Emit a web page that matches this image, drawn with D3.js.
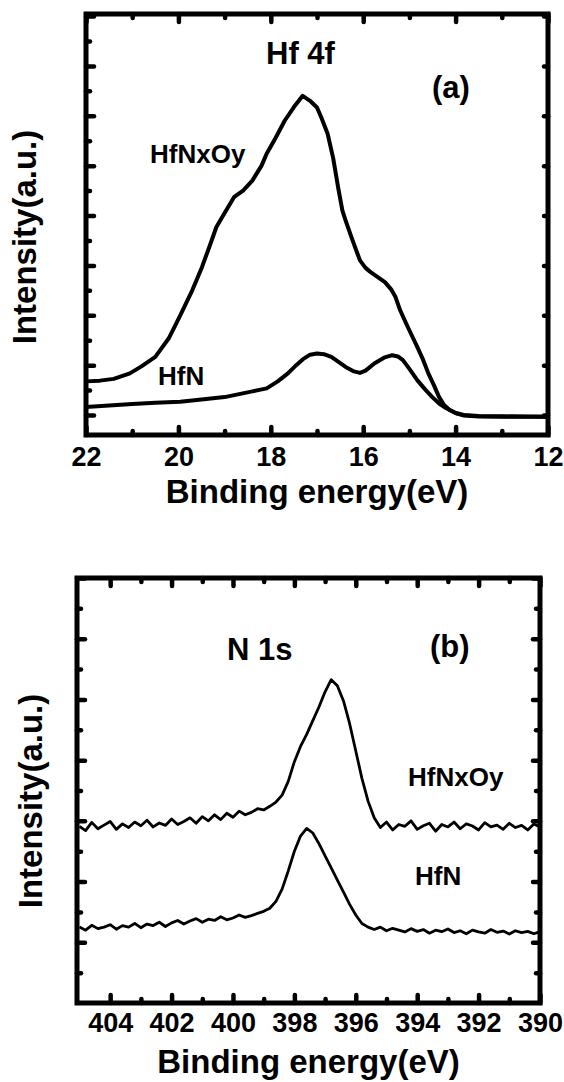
<!DOCTYPE html>
<html>
<head>
<style>
  body {
    margin: 0;
    background-color: #fff;
  }
  text {
    font-family: "Liberation Sans", Arial, sans-serif;
    font-weight: bold;
    fill: #000;
  }
</style>
<script src="https://d3js.org/d3.v7.min.js"></script>
</head>
<body>
<script>
// XPS spectra: (a) Hf 4f, (b) N 1s

// panel (a) - Hf 4f
const hfEnergyNxOy = [22.0, 21.7, 21.4, 21.05, 20.8, 20.5, 20.2, 19.96, 19.7, 19.49, 19.3, 19.18, 19.0, 18.79, 18.6, 18.4, 18.2, 18.09, 17.9, 17.7, 17.5, 17.31, 17.15, 17.0, 16.9, 16.77, 16.65, 16.54, 16.45, 16.38, 16.23, 16.07, 15.95, 15.84, 15.7, 15.53, 15.4, 15.3, 15.2, 15.07, 14.95, 14.83, 14.7, 14.59, 14.47, 14.36, 14.25, 14.13, 14.0, 13.82, 13.5, 13.0, 12.5, 12.0];
const hfNxOy = [2.35, 2.38, 2.45, 2.67, 2.95, 3.33, 4.1, 5.0, 6.0, 6.93, 7.9, 8.53, 9.1, 9.75, 10.0, 10.4, 11.0, 11.48, 12.1, 12.8, 13.35, 13.8, 13.6, 13.33, 12.9, 12.28, 11.3, 10.1, 9.2, 8.8, 8.0, 7.2, 6.9, 6.73, 6.55, 6.33, 6.05, 5.73, 5.2, 4.67, 4.2, 3.73, 3.2, 2.67, 2.2, 1.73, 1.4, 1.2, 1.08, 1.0, 0.96, 0.95, 0.94, 0.93];

const hfEnergyN = [22.0, 21.5, 21.0, 20.5, 19.96, 19.5, 19.0, 18.79, 18.4, 18.09, 17.85, 17.63, 17.45, 17.31, 17.15, 17.0, 16.85, 16.69, 16.55, 16.38, 16.2, 16.07, 15.95, 15.76, 15.55, 15.37, 15.25, 15.14, 15.0, 14.83, 14.67, 14.51, 14.35, 14.2, 14.0, 13.82, 13.5, 13.0, 12.0];
const hfN = [1.32, 1.38, 1.44, 1.49, 1.53, 1.62, 1.72, 1.8, 1.95, 2.07, 2.35, 2.67, 3.0, 3.23, 3.42, 3.47, 3.44, 3.33, 3.15, 2.93, 2.75, 2.69, 2.78, 3.07, 3.3, 3.4, 3.35, 3.2, 2.85, 2.4, 2.05, 1.73, 1.45, 1.27, 1.08, 0.98, 0.94, 0.93, 0.93];

const hfTicks = [22, 21, 20, 19, 18, 17, 16, 15, 14, 13, 12];

// panel (b) - N 1s, 405.0 -> 390.0 eV in 0.2 eV steps
const nEnergy = d3.range(0, 76).map(i => +(405 - i * 0.2).toFixed(1));
const nNxOy = [5.82, 5.68, 5.95, 5.74, 5.86, 5.98, 5.72, 5.9, 5.78, 5.96,
  5.84, 6.02, 5.8, 5.93, 5.85, 6.06, 5.88, 5.98, 6.1, 5.92,
  6.14, 6.0, 6.2, 6.04, 6.25, 6.12, 6.32, 6.2, 6.28, 6.4,
  6.36, 6.48, 6.62, 6.85, 7.3, 7.95, 8.45, 8.85, 9.3, 9.75,
  10.25, 10.65, 10.45, 9.95, 9.2, 8.3, 7.4, 6.65, 6.1, 5.78,
  5.96, 5.7, 5.88, 5.82, 6.0, 5.72, 5.84, 5.92, 5.66, 5.88,
  5.8, 5.96, 5.74, 5.9, 5.83, 5.7, 5.94, 5.8, 5.86, 5.72,
  5.92, 5.78, 5.85, 5.7, 5.9, 5.8];
const nN = [2.5, 2.4, 2.56, 2.45, 2.5, 2.58, 2.43, 2.55, 2.5, 2.62,
  2.48, 2.6, 2.55, 2.66, 2.52, 2.64, 2.72, 2.6, 2.7, 2.78,
  2.66, 2.76, 2.72, 2.84, 2.74, 2.8, 2.9, 2.82, 2.88, 2.95,
  3.02, 3.12, 3.35, 3.75, 4.35, 5.0, 5.5, 5.75, 5.6, 5.25,
  4.85, 4.45, 4.05, 3.65, 3.25, 2.9, 2.62, 2.5, 2.42, 2.5,
  2.38, 2.46, 2.4, 2.34, 2.45, 2.36, 2.42, 2.3, 2.4, 2.35,
  2.44, 2.32, 2.38, 2.28, 2.4, 2.34, 2.3, 2.42, 2.33, 2.37,
  2.27, 2.38, 2.32, 2.36, 2.28, 2.35];

const nTicks = d3.range(404, 389, -1);

const svg = d3.select('body')
  .append('svg')
  .attr('width', 564)
  .attr('height', 1082);

const drawPanel = (p) => {
  const x = d3.scaleLinear().domain(p.xDomain).range([p.left, p.right]);
  const y = d3.scaleLinear().domain(p.yDomain).range([p.bottom, p.top]);
  const g = svg.append('g');

  const isMajorX = v => v % 2 === 0;
  const isMajorY = v => (v % 2 === 0) === p.evenMajorY;
  const yTicks = d3.range(1, Math.floor(p.yDomain[1]) + 1);

  const xMajor = p.xTicks.filter(isMajorX);
  const xMinor = p.xTicks.filter(v => !isMajorX(v));
  const addAxis = (axis, transform) => {
    const a = g.append('g').attr('transform', transform).call(axis);
    a.select('.domain').remove();
    a.selectAll('.tick line')
      .attr('stroke', '#000')
      .attr('stroke-width', 4.5)
      .attr('stroke-linecap', 'round');
    return a;
  };

  // x ticks, bottom (with labels) and top
  addAxis(d3.axisBottom(x).tickValues(xMinor).tickSize(-4).tickFormat(''), `translate(0,${p.bottom})`);
  const bx = addAxis(d3.axisBottom(x).tickValues(xMajor).tickSize(-8).tickPadding(p.tickPad), `translate(0,${p.bottom})`);
  bx.selectAll('.tick text')
    .style('font-size', '27px')
    .style('font-family', '"Liberation Sans", Arial, sans-serif')
    .style('font-weight', 'bold')
    .attr('fill', '#000');

  addAxis(d3.axisTop(x).tickValues(xMinor).tickSize(-4).tickFormat(''), `translate(0,${p.top})`);
  addAxis(d3.axisTop(x).tickValues(xMajor).tickSize(-8).tickFormat(''), `translate(0,${p.top})`);

  // y ticks, no labels
  const yMajor = yTicks.filter(isMajorY);
  const yMinor = yTicks.filter(v => !isMajorY(v));
  addAxis(d3.axisLeft(y).tickValues(yMinor).tickSize(-4).tickFormat(''), `translate(${p.left},0)`);
  addAxis(d3.axisLeft(y).tickValues(yMajor).tickSize(-8).tickFormat(''), `translate(${p.left},0)`);
  if (p.rightMinor) {
    addAxis(d3.axisRight(y).tickValues(yMinor).tickSize(-4).tickFormat(''), `translate(${p.right},0)`);
    addAxis(d3.axisRight(y).tickValues(yMajor).tickSize(-7).tickFormat(''), `translate(${p.right},0)`);
  } else {
    addAxis(d3.axisRight(y).tickValues(yMajor).tickSize(-4).tickFormat(''), `translate(${p.right},0)`);
  }

  // spectra
  const line = d3.line()
    .x(d => x(d[0]))
    .y(d => y(d[1]));

  p.series.forEach(s => {
    g.append('path')
      .datum(d3.zip(s.energy, s.values))
      .attr('fill', 'none')
      .attr('stroke', '#000')
      .attr('stroke-width', p.lineWidth)
      .attr('stroke-linejoin', 'round')
      .attr('d', line);

    g.append('text')
      .attr('x', s.label[0])
      .attr('y', s.label[1])
      .style('font-size', '26px')
      .text(s.name);
  });

  // frame
  g.append('rect')
    .attr('x', p.left)
    .attr('y', p.top)
    .attr('width', p.right - p.left)
    .attr('height', p.bottom - p.top)
    .attr('fill', 'none')
    .attr('stroke', '#000')
    .attr('stroke-width', 5);

  g.append('text')
    .attr('x', p.title[0])
    .attr('y', p.title[1])
    .style('font-size', '31px')
    .text(p.titleText);

  g.append('text')
    .attr('x', p.tag[0])
    .attr('y', p.tag[1])
    .style('font-size', '31px')
    .text(p.tagText);

  g.append('text')
    .attr('x', (p.left + p.right) / 2)
    .attr('y', p.xTitleY)
    .attr('text-anchor', 'middle')
    .style('font-size', '33px')
    .text('Binding energy(eV)');

  g.append('text')
    .attr('transform', `translate(${p.yTitle[0]},${p.yTitle[1]}) rotate(-90)`)
    .attr('text-anchor', 'middle')
    .style('font-size', '33px')
    .text('Intensity(a.u.)');
};

drawPanel({
  xDomain: [22, 12],
  yDomain: [0.2, 17.08],
  left: 86, right: 548, top: 14, bottom: 435,
  xTicks: hfTicks,
  evenMajorY: false,
  rightMinor: false,
  tickPad: 12,
  lineWidth: 4,
  series: [
    { name: 'HfNxOy', energy: hfEnergyNxOy, values: hfNxOy, label: [150, 163] },
    { name: 'HfN', energy: hfEnergyN, values: hfN, label: [158, 385] }
  ],
  titleText: 'Hf 4f', title: [266, 64],
  tagText: '(a)', tag: [432, 98],
  xTitleY: 503,
  yTitle: [36, 237]
});

drawPanel({
  xDomain: [405.08, 390],
  yDomain: [0, 14],
  left: 77, right: 540, top: 578, bottom: 1003,
  xTicks: nTicks,
  evenMajorY: true,
  rightMinor: true,
  tickPad: 10,
  lineWidth: 2.8,
  series: [
    { name: 'HfNxOy', energy: nEnergy, values: nNxOy, label: [408, 786] },
    { name: 'HfN', energy: nEnergy, values: nN, label: [415, 885] }
  ],
  titleText: 'N 1s', title: [227, 660],
  tagText: '(b)', tag: [430, 657],
  xTitleY: 1073,
  yTitle: [42, 801]
});
</script>
</body>
</html>
